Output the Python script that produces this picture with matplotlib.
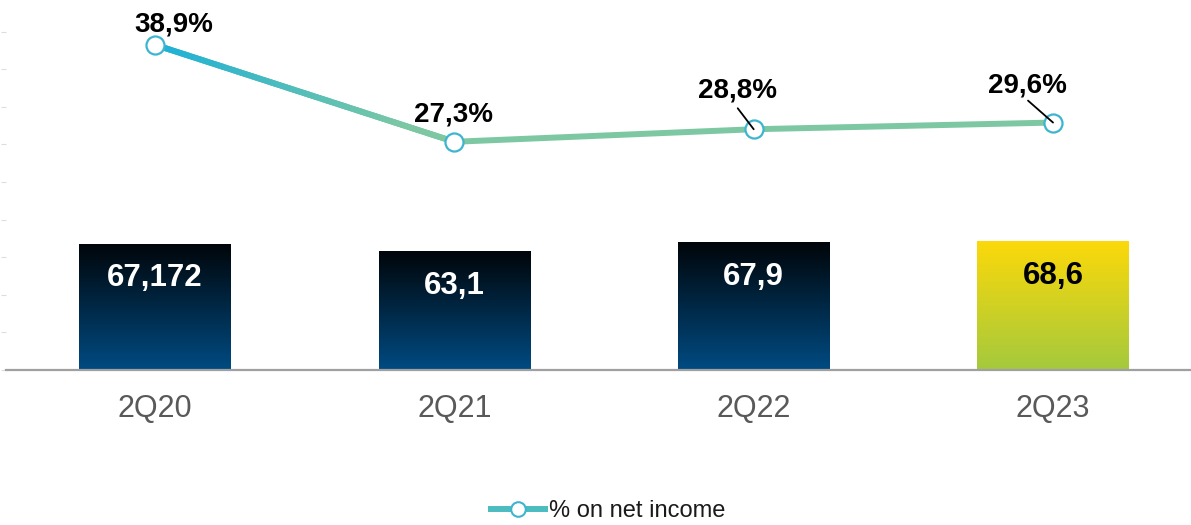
import numpy as np
import matplotlib
matplotlib.use('Agg')
import matplotlib.pyplot as plt
from matplotlib.collections import LineCollection
from matplotlib.colors import LinearSegmentedColormap
from matplotlib.lines import Line2D

plt.rcParams['font.family'] = ['Liberation Sans', 'DejaVu Sans']

# ---- data ----
categories = ['2Q20', '2Q21', '2Q22', '2Q23']
bar_values = [67.172, 63.1, 67.9, 68.6]
bar_labels = ['67,172', '63,1', '67,9', '68,6']
pct_values = [38.9, 27.3, 28.8, 29.6]
pct_labels = ['38,9%', '27,3%', '28,8%', '29,6%']
series_name = '% on net income'
y_ticks = list(range(0, 181, 20))

# ---- styles ----
pct_offsets = [(13.7, 9.4), (-0.7, 14.6), (-11.9, 23.0), (-18.7, 21.6)]
leader_offsets = {2: (-11.5, 15.1), 3: (-18.0, 15.8)}

fig = plt.figure(figsize=(11.91, 5.25), dpi=100)
ax = fig.add_axes([6 / 1191, 155 / 525, 1185 / 1191, 370 / 525])
x = np.arange(len(categories))

bars = ax.bar(x, bar_values, width=0.505, facecolor='none', edgecolor='none', zorder=1)
dark = LinearSegmentedColormap.from_list('dark', ['#004b82', '#010509'])
yellow = LinearSegmentedColormap.from_list('yel', ['#a4c93d', '#fcd90a'])
grad = np.linspace(0, 1, 256).reshape(-1, 1)
for i, b in enumerate(bars):
    cmap = yellow if i == 3 else dark
    x0, w, h = b.get_x(), b.get_width(), b.get_height()
    im = ax.imshow(grad, extent=[x0, x0 + w, 0, h], origin='lower', cmap=cmap,
                   aspect='auto', zorder=1, interpolation='bilinear')
    im.set_clip_path(b)

for i, (v, lbl) in enumerate(zip(bar_values, bar_labels)):
    ax.annotate(lbl, xy=(x[i], v), xytext=(0, -30.6), textcoords='offset points',
                ha='center', va='baseline', fontsize=22.5, fontweight='bold',
                color='black' if i == 3 else 'white', zorder=5)

ax.set_xlim(-0.498, 3.461)
ax.set_ylim(0, 196.8)
ax.set_yticks(y_ticks)
ax.set_yticklabels([])
ax.tick_params(axis='y', length=3.6, width=0.8, color='#dddddd', direction='out')
ax.set_xticks(x)
ax.set_xticklabels(categories)
ax.tick_params(axis='x', length=0, pad=17.5, labelsize=22, labelcolor='#595959')
for s in ['top', 'right', 'left']:
    ax.spines[s].set_visible(False)
ax.spines['bottom'].set_color('#a0a0a0')
ax.spines['bottom'].set_linewidth(1.6)
ax.spines['bottom'].set_zorder(3)

# ---- line on secondary axis ----
ax2 = ax.twinx()
ax2.set_ylim(0, 44.26)
ax2.set_axis_off()
green = '#7dc8a3'
blue = '#1cb0d9'
ax2.plot(x, pct_values, color=green, lw=4.3, solid_capstyle='round', zorder=2)

# gradient overlay on the first segment (blue -> green)
line_cmap = LinearSegmentedColormap.from_list('ln', [blue, green])
n = 80
t = np.linspace(0, 1, n + 1)
xs = x[0] + (x[1] - x[0]) * t
ys = pct_values[0] + (pct_values[1] - pct_values[0]) * t
segs = np.stack([np.column_stack([xs[:-1], ys[:-1]]),
                 np.column_stack([xs[1:], ys[1:]])], axis=1)
colors = line_cmap(np.clip(t[:-1] / 0.85, 0, 1))
lc = LineCollection(segs, colors=colors, linewidths=4.3, capstyle='round', zorder=3)
ax2.add_collection(lc)

ax2.plot(x, pct_values, ls='none', marker='o', ms=13, mfc='white',
         mec='#3db5cf', mew=1.6, zorder=4)

for i, (v, lbl) in enumerate(zip(pct_values, pct_labels)):
    ax2.annotate(lbl, xy=(x[i], v), xytext=pct_offsets[i], textcoords='offset points',
                 ha='center', va='baseline', fontsize=20, fontweight='bold',
                 color='black', zorder=6)
for i, off in leader_offsets.items():
    ax2.annotate('', xy=(x[i], pct_values[i]), xytext=off, textcoords='offset points',
                 arrowprops=dict(arrowstyle='-', lw=1.3, color='black',
                                 shrinkA=0, shrinkB=0), zorder=6)

handle = Line2D([], [], color='#4cbcc0', lw=4.3, marker='o', ms=10.5, mfc='white',
                mec='#3db5cf', mew=1.5)
fig.legend(handles=[handle], labels=[series_name], loc='center',
           bbox_to_anchor=(0.5105, 0.027), frameon=False, fontsize=17,
           handlelength=2.3, handletextpad=0.15, labelcolor='#1a1a1a')

fig.savefig('out.png', dpi=100)
